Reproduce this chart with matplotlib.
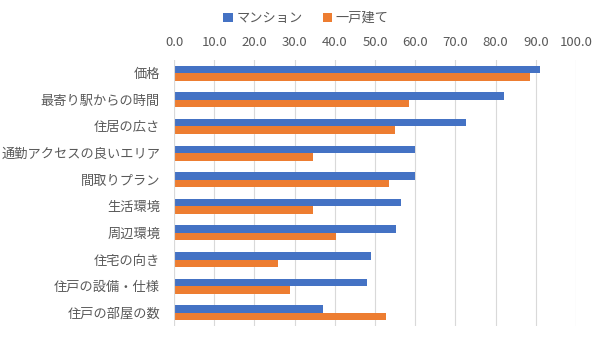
import matplotlib
matplotlib.use('Agg')
import matplotlib.pyplot as plt
import numpy as np

plt.rcParams['font.family'] = ['Noto Sans CJK JP', 'DejaVu Sans']

categories = ['価格', '最寄り駅からの時間', '住居の広さ', '通勤アクセスの良いエリア', '間取りプラン',
              '生活環境', '周辺環境', '住宅の向き', '住戸の設備・仕様', '住戸の部屋の数']
mansion = [91.1, 82.1, 72.7, 60.0, 60.0, 56.5, 55.1, 48.9, 48.1, 37.1]
kodate = [88.5, 58.4, 54.9, 34.5, 53.4, 34.5, 40.4, 25.9, 28.8, 52.7]
ticks = np.arange(0, 101, 10)

fig = plt.figure(figsize=(6, 3.39), dpi=100)
ax = fig.add_axes([174/600, 13/339, 402/600, 266/339])

y = np.arange(len(categories))
h = 0.28
ax.barh(y - h/2, mansion, height=h, color='#4472C4', label='マンション', zorder=3)
ax.barh(y + h/2, kodate, height=h, color='#ED7D31', label='一戸建て', zorder=3)

ax.set_xlim(0, 100)
ax.set_ylim(len(categories) - 0.5, -0.5)
ax.set_xticks(ticks)
ax.set_xticklabels([f'{t:.1f}' for t in ticks])
ax.xaxis.tick_top()
ax.set_yticks(y)
ax.set_yticklabels(categories)
ax.tick_params(length=0, colors='#595959', labelsize=9.5)
ax.tick_params(axis='x', pad=8)
ax.tick_params(axis='y', pad=10)
ax.grid(axis='x', color='#D9D9D9', linewidth=0.8, zorder=0)
for s in ax.spines.values():
    s.set_visible(False)
ax.axvline(0, color='#D9D9D9', linewidth=0.8, zorder=4)

leg = fig.legend(loc='upper center', bbox_to_anchor=(0.51, 1.0), ncol=2, frameon=False,
                 fontsize=9.5, handlelength=0.7, handleheight=0.7, columnspacing=1.5,
                 handletextpad=0.3, labelcolor='#595959')

fig.savefig('out.png', dpi=100)
